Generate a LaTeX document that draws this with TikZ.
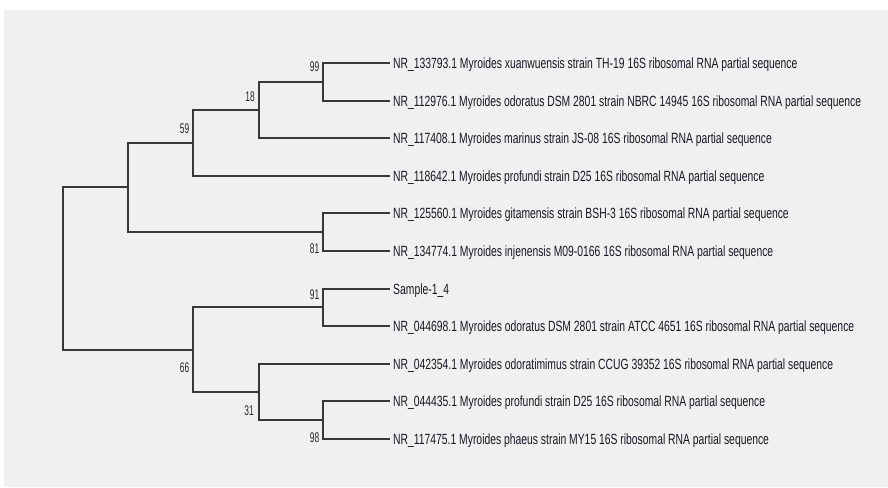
\documentclass[tikz,border=0pt]{standalone}
\usepackage{fontspec}
\newfontfamily\leaffont[FakeStretch=0.70]{Liberation Sans}
\newfontfamily\numfont[FakeStretch=0.6]{Liberation Sans}
\definecolor{panel}{HTML}{F0F0F0}
\definecolor{branch}{HTML}{383838}
\definecolor{ink}{HTML}{181824}
\definecolor{numink}{HTML}{28282F}
\begin{document}
\begin{tikzpicture}[x=1pt,y=-1pt,
  leaf/.style={anchor=west,inner xsep=4pt,inner ysep=0pt,text height=10.6pt,text depth=0pt,
    font=\leaffont\fontsize{14.8}{15}\selectfont,text=ink},
  boot/.style={anchor=east,inner sep=0pt,text height=10pt,text depth=0pt,
    font=\numfont\fontsize{14}{15}\selectfont,text=numink},
  br/.style={draw=branch,line width=2pt,line cap=rect}]
\useasboundingbox (0,0) rectangle (888,487);
\fill[white] (0,0) rectangle (888,487);
\fill[panel] (4,10) rectangle (888,487);
% leaves
\node[leaf] (l0) at (389,63) {NR\_133793.1 Myroides xuanwuensis strain TH-19 16S ribosomal RNA partial sequence};
\node[leaf] (l1) at (389,101) {NR\_112976.1 Myroides odoratus DSM 2801 strain NBRC 14945 16S ribosomal RNA partial sequence};
\node[leaf] (l2) at (389,138) {NR\_117408.1 Myroides marinus strain JS-08 16S ribosomal RNA partial sequence};
\node[leaf] (l3) at (389,176) {NR\_118642.1 Myroides profundi strain D25 16S ribosomal RNA partial sequence};
\node[leaf] (l4) at (389,213) {NR\_125560.1 Myroides gitamensis strain BSH-3 16S ribosomal RNA partial sequence};
\node[leaf] (l5) at (389,251) {NR\_134774.1 Myroides injenensis M09-0166 16S ribosomal RNA partial sequence};
\node[leaf] (l6) at (389,289) {Sample-1\_4};
\node[leaf] (l7) at (389,326) {NR\_044698.1 Myroides odoratus DSM 2801 strain ATCC 4651 16S ribosomal RNA partial sequence};
\node[leaf] (l8) at (389,364) {NR\_042354.1 Myroides odoratimimus strain CCUG 39352 16S ribosomal RNA partial sequence};
\node[leaf] (l9) at (389,401) {NR\_044435.1 Myroides profundi strain D25 16S ribosomal RNA partial sequence};
\node[leaf] (l10) at (389,439) {NR\_117475.1 Myroides phaeus strain MY15 16S ribosomal RNA partial sequence};
% internal nodes
\coordinate (n99) at (323,82);
\coordinate (n18) at (259,110);
\coordinate (n59) at (193,143);
\coordinate (n81) at (323,232);
\coordinate (nA) at (128,187);
\coordinate (n91) at (323,307);
\coordinate (n98) at (323,420);
\coordinate (n31) at (259,392);
\coordinate (n66) at (193,350);
\coordinate (root) at (63,269);
% branches
\draw[br] (l0.west) -| (n99) |- (l1.west);
\draw[br] (n99) -| (n18) |- (l2.west);
\draw[br] (n18) -| (n59) |- (l3.west);
\draw[br] (l4.west) -| (n81) |- (l5.west);
\draw[br] (n59) -| (nA) |- (n81);
\draw[br] (l6.west) -| (n91) |- (l7.west);
\draw[br] (l9.west) -| (n98) |- (l10.west);
\draw[br] (l8.west) -| (n31) |- (n98);
\draw[br] (n91) -| (n66) |- (n31);
\draw[br] (nA) -| (root) |- (n66);
% bootstrap values
\node[boot] (b99) at (319.5,66.7) {99};
\node[boot] (b18) at (255,96) {18};
\node[boot] (b59) at (189.5,128) {59};
\node[boot] (b81) at (319.5,248) {81};
\node[boot] (b91) at (319.5,294) {91};
\node[boot] (b66) at (189.5,367) {66};
\node[boot] (b31) at (254,410.5) {31};
\node[boot] (b98) at (319.5,437.5) {98};
\end{tikzpicture}
\end{document}
